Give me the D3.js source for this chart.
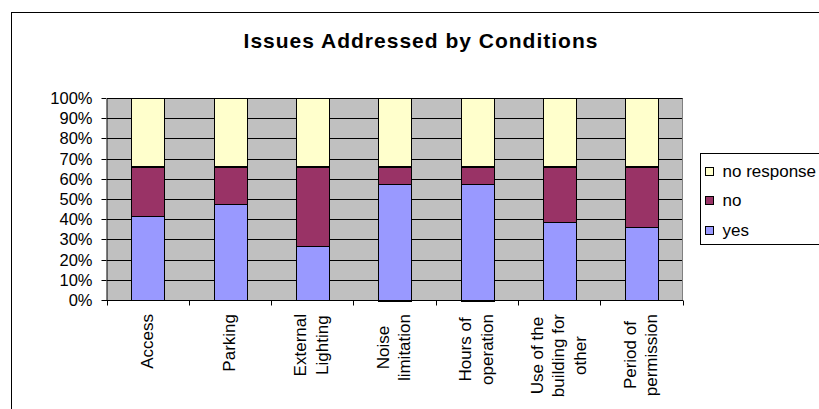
<!DOCTYPE html>
<html>
<head>
<meta charset="utf-8">
<script src="https://cdn.jsdelivr.net/npm/d3@7"></script>
<style>
  html, body { margin: 0; padding: 0; background: #fff; }
  svg { display: block; font-family: "Liberation Sans", Arial, sans-serif; }
</style>
</head>
<body>
<svg id="chart" width="819" height="409"></svg>
<script>
// Survey responses per planning condition (percent of respondents)
const categories = ["Access", "Parking", "External Lighting", "Noise limitation",
  "Hours of operation", "Use of the building for other", "Period of permission"];
const yesValues        = [42, 48, 27, 57.5, 57.5, 39, 36.5];
const noValues         = [24, 18, 39, 8.5, 8.5, 27, 29.5];
const noResponseValues = [34, 34, 34, 34, 34, 34, 34];
const seriesKeys   = ["yes", "no", "noResponse"];
const seriesNames  = ["yes", "no", "no response"];
const seriesColors = ["#9999FF", "#993366", "#FFFFCC"];
const yTicks = [0, 10, 20, 30, 40, 50, 60, 70, 80, 90, 100];
const titleText = "Issues Addressed by Conditions";

const svg = d3.select("#chart");
const W = 819, H = 409;

// Table for the stack layout
const table = categories.map((c, i) => ({
  category: c, yes: yesValues[i], no: noValues[i], noResponse: noResponseValues[i]
}));
const stacked = d3.stack().keys(seriesKeys)(table);

const plot = { left: 107, right: 683, top: 98.5, bottom: 300.5 };
const x = d3.scaleBand().domain(categories).range([plot.left, plot.right]).padding(0);
const y = d3.scaleLinear().domain([0, 100]).range([plot.bottom, plot.top]);
const color = d3.scaleOrdinal().domain(seriesKeys).range(seriesColors);
const crisp = v => Math.round(v) + 0.5;

// Outer chart frame
svg.append("rect")
  .attr("x", 11.5).attr("y", 12.5).attr("width", 830).attr("height", 420)
  .attr("fill", "#fff").attr("stroke", "#000").attr("stroke-width", 1);

// Title
svg.append("text")
  .attr("x", 421).attr("y", 47.5)
  .attr("text-anchor", "middle")
  .attr("font-size", 21).attr("font-weight", "bold")
  .attr("letter-spacing", 1)
  .attr("fill", "#000")
  .text(titleText);

// Plot area background
svg.append("rect")
  .attr("x", plot.left).attr("y", Math.round(plot.top))
  .attr("width", plot.right - plot.left).attr("height", Math.round(plot.bottom) - Math.round(plot.top))
  .attr("fill", "#C0C0C0");

// Horizontal gridlines
svg.append("g").selectAll("line")
  .data(yTicks.filter(d => d > 0))
  .join("line")
  .attr("x1", plot.left).attr("x2", plot.right)
  .attr("y1", d => crisp(y(d) - 0.5)).attr("y2", d => crisp(y(d) - 0.5))
  .attr("stroke", "#000").attr("stroke-width", 1);

// Plot area right border
svg.append("line")
  .attr("x1", plot.right - 0.5).attr("x2", plot.right - 0.5)
  .attr("y1", crisp(plot.top - 0.5)).attr("y2", crisp(plot.bottom - 0.5))
  .attr("stroke", "#808080");

// Stacked bars
const barW = x.bandwidth() * 0.405;
svg.append("g").selectAll("g")
  .data(stacked)
  .join("g")
  .attr("fill", d => color(d.key))
  .selectAll("rect")
  .data(d => d)
  .join("rect")
  .attr("x", d => crisp(x(d.data.category) + (x.bandwidth() - barW) / 2))
  .attr("width", Math.round(barW))
  .attr("y", d => crisp(y(d[1]) - 0.5))
  .attr("height", d => Math.round(y(d[0])) - Math.round(y(d[1])))
  .attr("stroke", "#000").attr("stroke-width", 1);

// Y axis
const yAxis = svg.append("g")
  .attr("transform", `translate(${plot.left - 0.5},0)`)
  .call(d3.axisLeft(y).tickValues(yTicks).tickFormat(d => d + "%")
    .tickSize(5).tickSizeOuter(0).tickPadding(9));
yAxis.select(".domain").attr("stroke", "#000");
yAxis.selectAll(".tick").attr("transform", d => `translate(0,${crisp(y(d) - 0.5)})`);
yAxis.selectAll(".tick line").attr("stroke", "#000");
yAxis.selectAll(".tick text")
  .attr("font-size", 16.5).attr("font-family", "Liberation Sans, Arial, sans-serif")
  .attr("fill", "#000").attr("dy", "0.36em");

// X axis line and tick marks at category boundaries
const xAxis = svg.append("g");
xAxis.append("line")
  .attr("x1", plot.left - 5).attr("x2", plot.right)
  .attr("y1", crisp(plot.bottom - 0.5)).attr("y2", crisp(plot.bottom - 0.5))
  .attr("stroke", "#000");
const boundaries = categories.map(c => x(c)).concat([x.range()[1]]);
xAxis.selectAll("line.tick")
  .data(boundaries)
  .join("line")
  .attr("class", "tick")
  .attr("x1", d => crisp(d - 0.5)).attr("x2", d => crisp(d - 0.5))
  .attr("y1", crisp(plot.bottom - 0.5)).attr("y2", crisp(plot.bottom - 0.5) + 5)
  .attr("stroke", "#000");

// Rotated, wrapped category labels
const labelSize = 17, lineH = 21.5, wrapW = 88, blockTop = 314;
const measurer = svg.append("text").attr("font-size", labelSize).attr("visibility", "hidden");
const measure = s => { measurer.text(s); return measurer.node().getComputedTextLength(); };
function wrap(label) {
  const words = label.split(" ");
  const lines = [];
  let cur = "";
  words.forEach(w => {
    const t = cur ? cur + " " + w : w;
    if (cur && measure(t) > wrapW) { lines.push(cur); cur = w; } else { cur = t; }
  });
  if (cur) lines.push(cur);
  return lines;
}
categories.forEach(c => {
  const lines = wrap(c);
  const maxLen = d3.max(lines, measure);
  const cx = x(c) + x.bandwidth() / 2;
  const cy = blockTop + maxLen / 2;
  const n = lines.length;
  lines.forEach((ln, i) => {
    const bx = cx + (i - (n - 1) / 2) * lineH + 4.5;
    xAxis.append("text")
      .attr("transform", `translate(${bx},${cy}) rotate(-90)`)
      .attr("text-anchor", "middle")
      .attr("font-size", labelSize).attr("fill", "#000")
      .text(ln);
  });
});
measurer.remove();

// Legend
const legend = svg.append("g");
legend.append("rect")
  .attr("x", 700.5).attr("y", 153.5).attr("width", 160).attr("height", 91)
  .attr("fill", "#fff").attr("stroke", "#000");
const legendOrder = [2, 1, 0];
const legendY = d3.scalePoint().domain(legendOrder).range([170.5, 229.5]);
legendOrder.forEach(k => {
  const cy = legendY(k);
  legend.append("rect")
    .attr("x", 705.5).attr("y", Math.round(cy - 4) + 0.5)
    .attr("width", 8).attr("height", 8)
    .attr("fill", seriesColors[k]).attr("stroke", "#000");
  legend.append("text")
    .attr("x", 722.5).attr("y", cy).attr("dy", "0.36em")
    .attr("font-size", 17).attr("fill", "#000")
    .text(seriesNames[k]);
});
</script>
</body>
</html>
